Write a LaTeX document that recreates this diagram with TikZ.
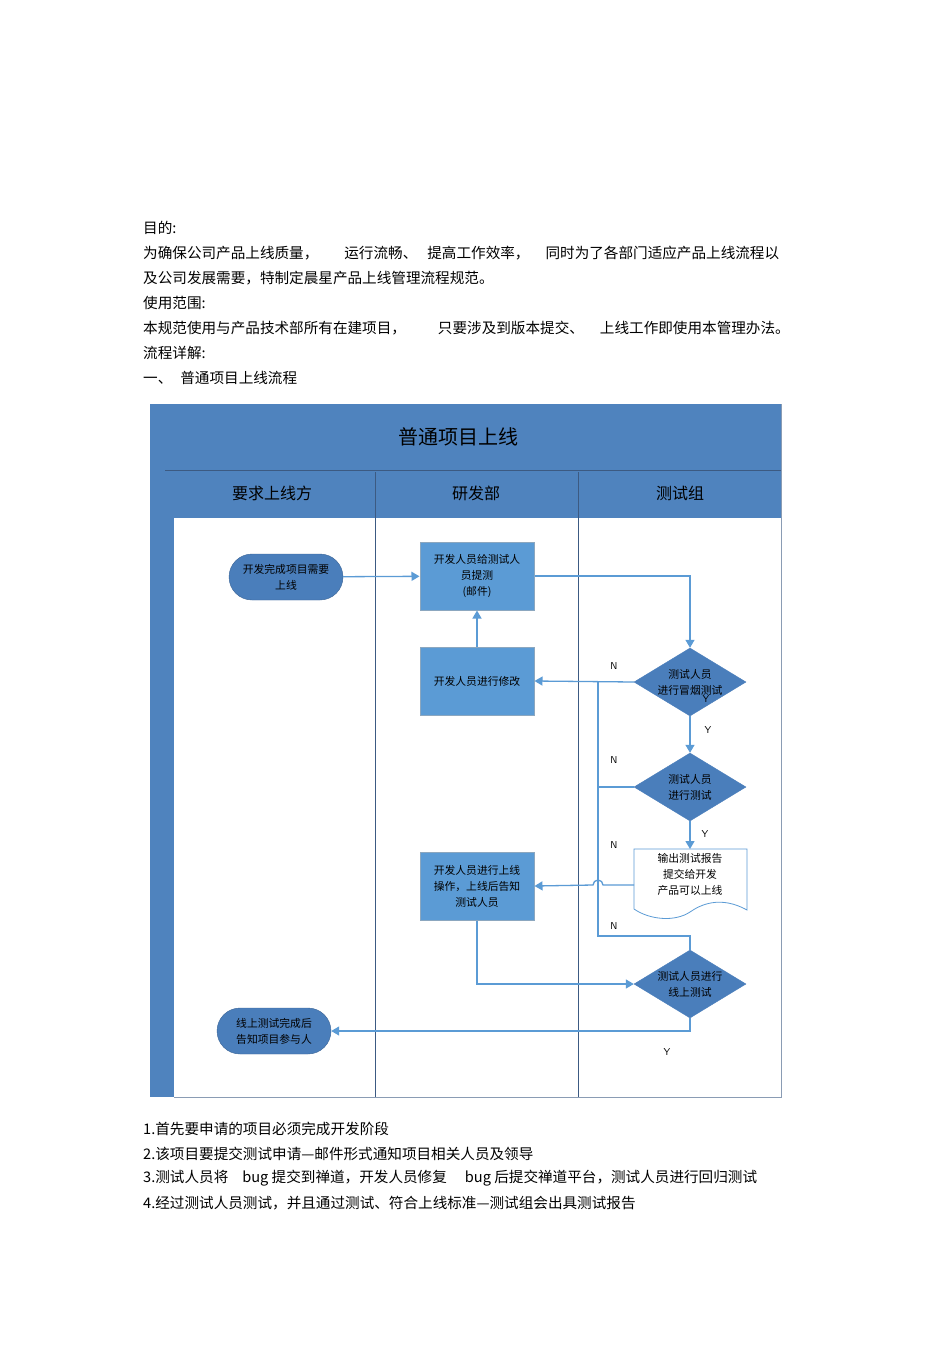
\documentclass[tikz,border=0pt]{standalone}
\usepackage{fontspec}
\setmainfont{Noto Sans CJK SC}
\usetikzlibrary{shapes.geometric,arrows.meta}
\definecolor{band}{RGB}{79,131,190}
\definecolor{boxf}{RGB}{91,155,213}
\definecolor{dia}{RGB}{74,126,187}
\definecolor{ln}{RGB}{91,155,213}
\definecolor{edge}{RGB}{60,90,130}
\begin{document}
\begin{tikzpicture}[x=1pt,y=-1pt,
 body/.style={anchor=west,inner sep=0,font=\fontsize{14.6}{16}\selectfont},
 small/.style={font=\fontsize{10.8}{16}\selectfont,align=center},
 box/.style={draw=boxf!70!black!60,fill=boxf,minimum width=114pt,minimum height=68pt,small,inner sep=1pt,line width=1pt},
 term/.style={draw=dia!80!black,fill=dia,rounded corners=23pt,minimum width=114pt,minimum height=46pt,small,inner sep=1pt},
 dmd/.style={diamond,draw=dia,fill=dia,minimum width=112pt,minimum height=68pt,aspect=1.65,small,inner sep=0pt},
 con/.style={draw=ln,line width=1.3pt},
 arr/.style={con,-{Triangle[length=8pt,width=9pt]}},
 yn/.style={font=\fontsize{10}{12}\selectfont\sffamily}]
\useasboundingbox (0,0) rectangle (950,1345);
\fill[white] (0,0) rectangle (950,1345);
% top text
\node[body] at (143,228) {目的:};
\node[body] at (143,253) {为确保公司产品上线质量，\hspace{26pt}运行流畅、\hspace{10pt}提高工作效率，\hspace{16pt}同时为了各部门适应产品上线流程以};
\node[body] at (143,278) {及公司发展需要，特制定晨星产品上线管理流程规范。};
\node[body] at (143,303) {使用范围:};
\node[body] at (143,328) {本规范使用与产品技术部所有在建项目，\hspace{32pt}只要涉及到版本提交、\hspace{16pt}上线工作即使用本管理办法。};
\node[body] at (143,353) {流程详解:};
\node[body] at (143,378) {一、\hspace{8pt}普通项目上线流程};
% frame
\fill[white] (150,404) rectangle (781,1097);
\fill[band] (150,404) rectangle (781,518);
\node[font=\fontsize{20}{24}\selectfont] at (458,437) {普通项目上线};
\fill[band] (150,470) rectangle (174,1097);
\draw[edge,line width=0.8pt] (165,470) -- (781,470);
\node[font=\fontsize{16}{20}\selectfont] at (272,493) {要求上线方};
\node[font=\fontsize{16}{20}\selectfont] at (476,493) {研发部};
\node[font=\fontsize{16}{20}\selectfont] at (680,493) {测试组};
\draw[edge,line width=1pt] (375,472) -- (375,1097) (578,472) -- (578,1097);
\draw[edge!60,line width=0.8pt] (174,1097) -- (781,1097) -- (781,404);
% nodes
\node[term] (s) at (286,577) {开发完成项目需要\\上线};
\node[box] (b1) at (477,576) {开发人员给测试人\\员提测\\(邮件)};
\node[box] (b2) at (477,681) {开发人员进行修改};
\node[dmd] (d1) at (690,682) {测试人员\\进行冒烟测试};
\node[dmd] (d2) at (690,787) {测试人员\\进行测试};
\node[box] (b3) at (477,886) {开发人员进行上线\\操作，上线后告知\\测试人员};
\node[dmd] (d3) at (690,984) {测试人员进行\\线上测试};
\node[term] (e) at (274,1031) {线上测试完成后\\告知项目参与人};
\draw[draw=boxf,fill=white,line width=0.8pt] (634,849) -- (747,849) -- (747,910)
  .. controls (720,895) and (700,905) .. (690,912) .. controls (675,922) and (650,920) .. (634,909) -- cycle;
\node[small,align=center] (doc) at (690,874) {输出测试报告\\提交给开发\\产品可以上线};
\coordinate (dl) at (634,885);
\coordinate (dt) at (690,849);
% connectors
\draw[arr] (s) -- (b1);
\draw[arr] (b1.east) -| (d1.north);
\draw[arr] (d1.west) -- (b2.east);
\draw[arr] (b2) -- (b1);
\draw[arr] (d1) -- (d2);
\draw[arr] (d2) -- (dt);
\draw[con] (598,682) -- (598,936) -| (d3.north);
\draw[con] (d2.west) -- (598,787);
\draw[arr] (dl) -- (603,885) arc[start angle=0,end angle=-180,radius=5] -- (b3.east);
\draw[arr] (b3.south) |- (d3.west);
\draw[arr] (d3.south) |- (e.east);
% labels
\node[yn] at (614,666) {N};
\node[yn] at (614,760) {N};
\node[yn] at (614,845) {N};
\node[yn] at (614,926) {N};
\node[yn] at (706,699) {Y};
\node[yn] at (708,730) {Y};
\node[yn] at (705,834) {Y};
\node[yn] at (667,1052) {Y};
% bottom text
\node[body] at (143,1129) {1.首先要申请的项目必须完成开发阶段};
\node[body] at (143,1154) {2.该项目要提交测试申请—邮件形式通知项目相关人员及领导};
\node[body] at (143,1178) {3.测试人员将\hspace{14pt}bug 提交到禅道，开发人员修复\hspace{18pt}bug 后提交禅道平台，测试人员进行回归测试};
\node[body] at (143,1203) {4.经过测试人员测试，并且通过测试、符合上线标准—测试组会出具测试报告};
\end{tikzpicture}
\end{document}
